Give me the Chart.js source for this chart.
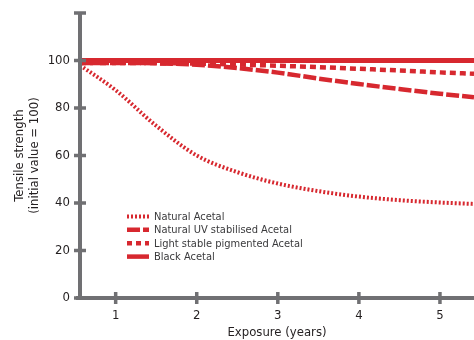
<!DOCTYPE html>
<html>
<head>
<meta charset="utf-8">
<script src="https://cdn.jsdelivr.net/npm/chart.js@4.4.1/dist/chart.umd.min.js"></script>
<style>
  html, body { margin: 0; padding: 0; background: #fff; }
  #wrap { width: 474px; height: 340px; position: relative; }
</style>
</head>
<body>
<div id="wrap"><canvas id="chart" width="474" height="340"></canvas></div>
<script>
// exposure in years
const years = [0.56, 1, 1.5, 2, 2.5, 3, 3.5, 4, 4.5, 5, 5.42];
const naturalAcetal = [98, 87.5, 72.5, 60, 53, 48.2, 45, 42.7, 41.2, 40.2, 39.6];
const uvStabilised  = [99, 99, 98.8, 98.2, 96.8, 94.9, 92.4, 90.1, 88, 86, 84.5];
const lightStable   = [99, 99, 98.9, 98.7, 98.3, 97.8, 97.2, 96.5, 95.8, 95, 94.4];
const blackAcetal   = [100, 100, 100, 100, 100, 100, 100, 100, 100, 100, 100];

const xTicks = [1, 2, 3, 4, 5];
const yTicks = [0, 20, 40, 60, 80, 100];
const yCaps = [0, 20, 40, 60, 80, 100, 120];

const seriesNames = ['Natural Acetal', 'Natural UV stabilised Acetal', 'Light stable pigmented Acetal', 'Black Acetal'];

const RED = '#d7282f';
const AXIS = '#707073';
const FONT = '"Liberation Sans Narrow", "DejaVu Sans Condensed", Roboto, sans-serif';

function pts(vals) {
    return vals.map((v, i) => ({ x: years[i], y: v }));
}

// axes drawn by hand so the tick marks cross the axis line
const axisPlugin = {
    id: 'axisCross',
    afterDatasetsDraw(chart) {
        const ctx = chart.ctx;
        const xs = chart.scales.x, ys = chart.scales.y;
        const left = xs.left, bottom = ys.bottom;
        ctx.save();
        ctx.strokeStyle = AXIS;
        ctx.lineWidth = 4;
        ctx.lineCap = 'butt';
        ctx.beginPath();
        ctx.moveTo(left, ys.top);
        ctx.lineTo(left, bottom);
        ctx.moveTo(left - 4, bottom);
        ctx.lineTo(xs.right, bottom);
        ctx.stroke();
        ctx.lineWidth = 3.5;
        ctx.beginPath();
        yCaps.forEach(v => {
            const p = ys.getPixelForValue(v);
            ctx.moveTo(left - 6, p);
            ctx.lineTo(left + 6, p);
        });
        xTicks.forEach(v => {
            const p = xs.getPixelForValue(v);
            ctx.moveTo(p, bottom - 6);
            ctx.lineTo(p, bottom + 6);
        });
        ctx.stroke();
        ctx.restore();
    }
};

// legend sits inside the plot area
const legendPlugin = {
    id: 'insideLegend',
    afterDraw(chart) {
        const ctx = chart.ctx;
        const x0 = 127, x1 = 149, tx = 154;
        const rows = [216.5, 229.8, 243.2, 256.6];
        ctx.save();
        ctx.font = '11px ' + FONT;
        ctx.textBaseline = 'middle';
        chart.data.datasets.forEach((ds, i) => {
            const y = rows[i];
            ctx.strokeStyle = ds.borderColor;
            ctx.lineWidth = ds.legendWidth;
            ctx.setLineDash(ds.legendDash || []);
            ctx.beginPath();
            ctx.moveTo(x0, y);
            ctx.lineTo(x1, y);
            ctx.stroke();
            ctx.setLineDash([]);
            ctx.fillStyle = '#3a3a3c';
            ctx.fillText(ds.label, tx, y + 0.5);
        });
        ctx.restore();
    }
};

new Chart(document.getElementById('chart'), {
    type: 'line',
    data: {
        datasets: [
            { label: seriesNames[0], data: pts(naturalAcetal), borderColor: RED, borderWidth: 4, borderDash: [2, 2], legendDash: [2, 2], legendWidth: 4 },
            { label: seriesNames[1], data: pts(uvStabilised), borderColor: RED, borderWidth: 4.5, borderDash: [13, 3], legendDash: [13, 3], legendWidth: 4.5 },
            { label: seriesNames[2], data: pts(lightStable), borderColor: RED, borderWidth: 4.5, borderDash: [6, 4], legendDash: [5, 4], legendWidth: 4.5 },
            { label: seriesNames[3], data: pts(blackAcetal), borderColor: RED, borderWidth: 5, legendWidth: 4.5 }
        ]
    },
    options: {
        responsive: false,
        animation: false,
        layout: { padding: { top: 13, right: 0, left: 12, bottom: 0 } },
        elements: {
            point: { radius: 0 },
            line: { tension: 0.4, cubicInterpolationMode: 'monotone', fill: false, borderCapStyle: 'butt' }
        },
        plugins: {
            legend: { display: false },
            tooltip: { enabled: false }
        },
        scales: {
            x: {
                type: 'linear',
                min: 0.56,
                max: 5.42,
                afterBuildTicks: s => { s.ticks = xTicks.map(v => ({ value: v })); },
                afterFit: s => { s.height = 42; s.paddingLeft = 0; s.paddingRight = 0; },
                grid: { display: false, drawTicks: false },
                border: { display: false },
                ticks: { color: '#231f20', padding: 10, font: { family: FONT, size: 13 } },
                title: { display: true, text: 'Exposure (years)', color: '#231f20', padding: { top: 4, bottom: 0 }, font: { family: FONT, size: 13 } }
            },
            y: {
                min: 0,
                max: 120,
                afterBuildTicks: s => { s.ticks = yTicks.map(v => ({ value: v })); },
                afterFit: s => { s.width = 68; s.paddingTop = 0; s.paddingBottom = 0; },
                grid: { display: false, drawTicks: false },
                border: { display: false },
                ticks: { color: '#231f20', padding: 10, font: { family: FONT, size: 13 } },
                title: { display: true, text: ['Tensile strength', '(initial value = 100)'], color: '#231f20', padding: { top: 0, bottom: 6 }, font: { family: FONT, size: 13, lineHeight: 1.15 } }
            }
        }
    },
    plugins: [axisPlugin, legendPlugin]
});
</script>
</body>
</html>
